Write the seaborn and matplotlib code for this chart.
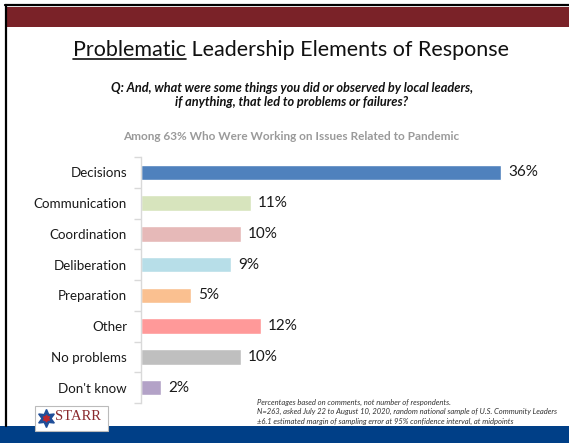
import matplotlib
matplotlib.use("Agg")
import matplotlib.pyplot as plt
import matplotlib.patches as mpatches
from matplotlib.lines import Line2D
import seaborn as sns
import pandas as pd

# Survey results: share of comments naming each problem area (%)
categories = ["Decisions", "Communication", "Coordination", "Deliberation",
              "Preparation", "Other", "No problems", "Don't know"]
values = [36, 11, 10, 9, 5, 12, 10, 2]
bar_colors = ["#4F81BD", "#D7E4BD", "#E6B9B8", "#B7DEE8",
              "#FAC090", "#FF9999", "#BFBFBF", "#B3A2C7"]
value_labels = ["36%", "11%", "10%", "9%", "5%", "12%", "10%", "2%"]

title_under = "Problematic"
title_rest = " Leadership Elements of Response"
question = ("Q: And, what were some things you did or observed by local leaders,\n"
            "if anything, that led to problems or failures?")
base_note = "Among 63% Who Were Working on Issues Related to Pandemic"
footnotes = ["Percentages based on comments, not number of respondents.",
             "N=263, asked July 22 to August 10, 2020, random national sample of U.S. Community Leaders",
             "\u00b16.1 estimated margin of sampling error at 95% confidence interval, at midpoints"]

sns.set_theme(style="white")
plt.rcParams["font.family"] = ["Lato", "DejaVu Sans"]

W, H = 569, 443
fig = plt.figure(figsize=(W / 100, H / 100), dpi=100)
fig.patch.set_facecolor("white")


def fx(x):
    return x / W


def fy(y):
    return 1 - y / H


# slide frame and banners
fig.add_artist(mpatches.Rectangle((fx(6), fy(27)), fx(W - 6), 20 / H,
                                  transform=fig.transFigure, color="#7A2228", lw=0))
fig.add_artist(mpatches.Rectangle((0, 0), 1, 17 / H,
                                  transform=fig.transFigure, color="#003F87", lw=0))
fig.add_artist(Line2D([fx(5), 1], [fy(5), fy(5)], transform=fig.transFigure,
                      color="black", lw=1.6))
fig.add_artist(Line2D([fx(5.5), fx(5.5)], [fy(5), fy(426)], transform=fig.transFigure,
                      color="black", lw=1.6))

# chart area
ax = fig.add_axes([fx(141), fy(403), 400 / W, 246 / H])
df = pd.DataFrame({"category": categories, "value": values})
sns.barplot(data=df, x="value", y="category", hue="category", palette=bar_colors,
            order=categories, hue_order=categories, width=0.5, legend=False,
            saturation=1, ax=ax)
ax.set_xlim(0, 40)
ax.set_ylim(len(categories) - 0.5, -0.5)
ax.set_xlabel("")
ax.set_ylabel("")
ax.set_xticks([])
for s in ["top", "right", "bottom"]:
    ax.spines[s].set_visible(False)
ax.spines["left"].set_color("#D9D9D9")
ax.spines["left"].set_linewidth(1)
ax.tick_params(axis="y", length=0, pad=10, labelsize=9.6, labelcolor="#1a1a1a")
ax.set_yticks(range(len(categories)))
ax.set_yticklabels(categories)
ax.set_yticks([i - 0.5 for i in range(len(categories) + 1)], minor=True)
ax.tick_params(axis="y", which="minor", length=5, color="#D9D9D9", width=1, direction="out", left=True)
ax.set_facecolor("none")

for bar, lab in zip(ax.patches, value_labels):
    ax.annotate(lab, (bar.get_width(), bar.get_y() + bar.get_height() / 2),
                xytext=(5, 0), textcoords="offset points", va="center", ha="left",
                fontsize=11, color="#1a1a1a")

# title with underlined first word
renderer = fig.canvas.get_renderer()
tsize = 15.5
t1 = fig.text(0, 0, title_under, fontsize=tsize, color="#111111")
t2 = fig.text(0, 0, title_rest, fontsize=tsize, color="#111111")
w1 = t1.get_window_extent(renderer).width
w2 = t2.get_window_extent(renderer).width
x0 = 291 - (w1 + w2) / 2
ty = 56
t1.set_position((fx(x0), fy(ty)))
t2.set_position((fx(x0 + w1), fy(ty)))
fig.add_artist(Line2D([fx(x0), fx(x0 + w1)], [fy(ty + 3), fy(ty + 3)],
                      transform=fig.transFigure, color="#111111", lw=1.2))

fig.text(fx(292), fy(95), question, ha="center", va="center", fontsize=9.2,
         fontweight="bold", fontstyle="italic", color="#111111", linespacing=1.25)
fig.text(fx(291), fy(136), base_note, ha="center", va="center", fontsize=8.5,
         fontweight="bold", color="#9A9A9A")

# footnote block sized so its longest line spans x = 257..560
fn_texts = [fig.text(fx(257), fy(402 + 9.5 * i), line, ha="left", va="center",
                     fontsize=5.4, fontstyle="italic", color="#333333")
            for i, line in enumerate(footnotes)]
longest = max(t.get_window_extent(renderer).width for t in fn_texts)
fn_size = 5.4 * 303 / longest
for t in fn_texts:
    t.set_fontsize(fn_size)

# logo box
fig.add_artist(mpatches.Rectangle((fx(35), fy(431)), 73 / W, 25 / H,
                                  transform=fig.transFigure, facecolor="white",
                                  edgecolor="#BBBBBB", lw=0.8, zorder=5))
fig.add_artist(Line2D([fx(46)], [fy(418)], transform=fig.transFigure, marker=(6, 1, 0),
                      markersize=13, color="#1F4E99", zorder=6))
fig.add_artist(Line2D([fx(46)], [fy(418)], transform=fig.transFigure, marker=(6, 1, 0),
                      markersize=5, color="#C0272D", zorder=7))
fig.text(fx(55), fy(417), "STARR", ha="left", va="center", fontsize=10.5,
         family=["Liberation Serif", "DejaVu Serif"], color="#8B2A2E", zorder=8)

fig.savefig("out.png", dpi=100, facecolor="white")
